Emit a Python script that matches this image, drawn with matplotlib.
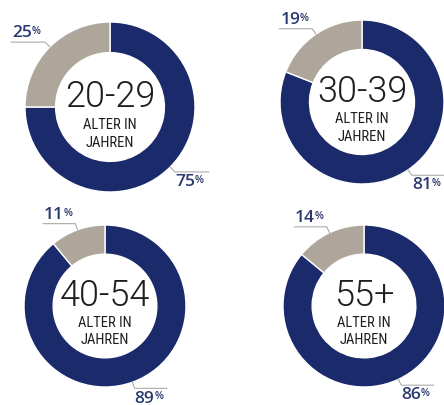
import numpy as np
import matplotlib.pyplot as plt

# age groups and shares (blue = main share, grey = rest)
groups = ["20-29", "30-39", "40-54", "55+"]
blue_share = [75, 81, 89, 86]
grey_share = [25, 19, 11, 14]

# donut centres and radii in pixels (image is 444x406)
centres = [(110, 108), (362, 103), (105, 307), (364, 307)]
radii = [85, 82, 81, 81]

navy = "#1b2a6b"
warm_grey = "#aea59b"
label_col = "#2b3a6e"
line_col = "#a0a0a0"
text_col = "#1e1e1e"

W, H = 444, 406
fig = plt.figure(figsize=(W / 100, H / 100), dpi=100)
fig.patch.set_facecolor("white")


def leader(ax, angle, value, side):
    # short diagonal from the ring, then a horizontal line with the value on it
    a = np.deg2rad(angle)
    x0, y0 = np.cos(a) * 1.0, np.sin(a) * 1.0
    x1, y1 = np.cos(a) * 1.08, np.sin(a) * 1.08
    length = 0.4
    if side == "left":
        x2 = x1 - length
        tx, ty, va = x2 + 0.01, y1 + 0.02, "bottom"
    else:
        x2 = x1 + length
        tx, ty, va = x1 + 0.0, y1 - 0.015, "top"
    ax.plot([x0, x1, x2], [y0, y1, y1], color=line_col, lw=0.7, clip_on=False)
    t = ax.text(tx, ty, str(value), ha="left", va=va, fontsize=12.5,
                fontweight="semibold", color=label_col, family="Open Sans",
                clip_on=False)
    ax.annotate("%", xy=(1.0, 0.95), xycoords=t, ha="left", va="top",
                fontsize=7.5, fontweight="semibold", color=label_col,
                family="Open Sans", annotation_clip=False)


small_font = ["Roboto Condensed", "Liberation Sans Narrow", "Roboto"]

for name, b, g, (cx, cy), r in zip(groups, blue_share, grey_share, centres, radii):
    ax = fig.add_axes([(cx - r) / W, (H - cy - r) / H, 2 * r / W, 2 * r / H])
    ax.pie([b, g], startangle=90, counterclock=False, colors=[navy, warm_grey],
           radius=1, wedgeprops=dict(width=0.36, edgecolor="white", linewidth=1))
    ax.set_xlim(-1, 1)
    ax.set_ylim(-1, 1)
    ax.set_aspect("equal")
    ax.axis("off")

    ax.text(0, 0.13, name, ha="center", va="center", fontsize=26,
            family="Roboto", fontweight=300, color=text_col)
    ax.text(0, -0.2, "ALTER IN", ha="center", va="center", fontsize=10.5,
            family=small_font, color=text_col)
    ax.text(0, -0.41, "JAHREN", ha="center", va="center", fontsize=10.5,
            family=small_font, color=text_col)

    # leaders point at the middle of each segment
    grey_mid = 90 + g / 100 * 360 / 2
    blue_mid = 90 - b / 100 * 360 / 2
    leader(ax, grey_mid, g, "left")
    leader(ax, blue_mid, b, "right")

fig.savefig("out.png", dpi=100, facecolor="white")
